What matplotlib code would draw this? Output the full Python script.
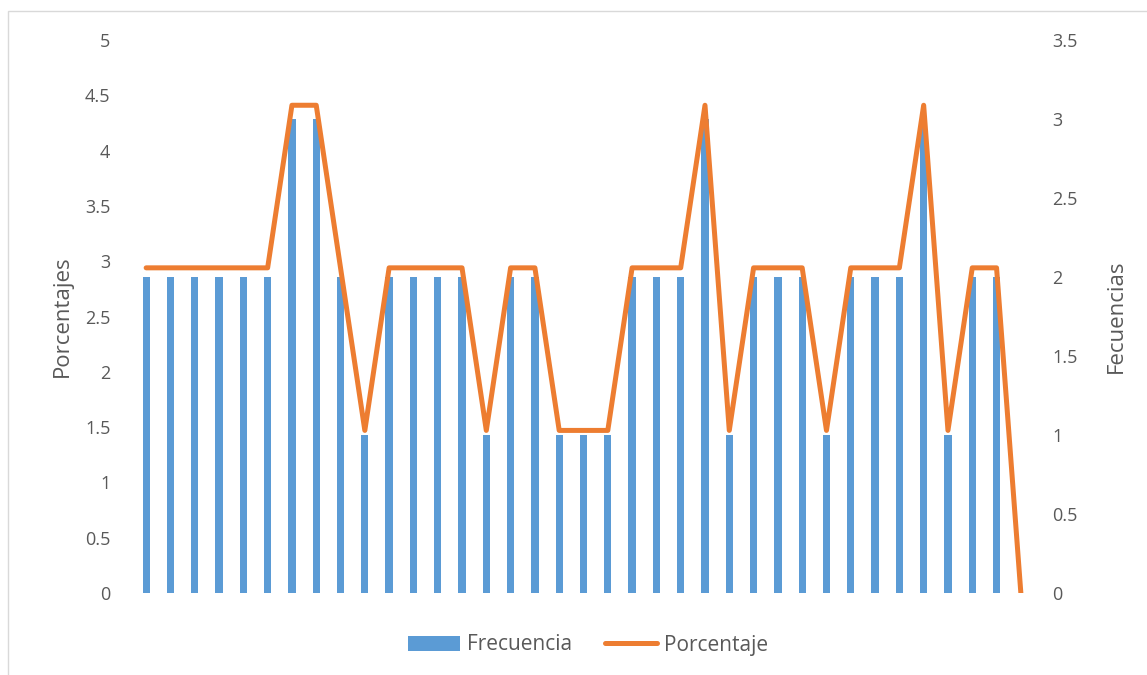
import matplotlib
matplotlib.use("Agg")
import matplotlib.pyplot as plt
from matplotlib.patches import Rectangle
from matplotlib.lines import Line2D
from matplotlib.patches import Patch

plt.rcParams['font.family'] = ['Open Sans', 'DejaVu Sans']

categories = list(range(1, 38))
frecuencia = [2, 2, 2, 2, 2, 2, 3, 3, 2, 1, 2, 2, 2, 2, 1, 2, 2, 1, 1, 1,
              2, 2, 2, 3, 1, 2, 2, 2, 1, 2, 2, 2, 3, 1, 2, 2, 0]
porcentaje = [2.94, 2.94, 2.94, 2.94, 2.94, 2.94, 4.41, 4.41, 2.94, 1.47,
              2.94, 2.94, 2.94, 2.94, 1.47, 2.94, 2.94, 1.47, 1.47, 1.47,
              2.94, 2.94, 2.94, 4.41, 1.47, 2.94, 2.94, 2.94, 1.47, 2.94,
              2.94, 2.94, 4.41, 1.47, 2.94, 2.94, 0.0]
left_ticks = [0, 0.5, 1, 1.5, 2, 2.5, 3, 3.5, 4, 4.5, 5]
right_ticks = [0, 0.5, 1, 1.5, 2, 2.5, 3, 3.5]

W, H = 1147, 675
fig = plt.figure(figsize=(W / 100, H / 100), dpi=100)
fig.patch.set_facecolor('white')
fig.patches.append(Rectangle((8 / W, -0.01), 1.2, 1 - 11 / H + 0.01,
                             transform=fig.transFigure, fill=False,
                             edgecolor='#d9d9d9', linewidth=1.0))

ax = fig.add_axes([134 / W, 1 - 593 / H, (1033 - 134) / W, (593 - 40) / H])
ax2 = ax.twinx()

gray = '#595959'
blue = '#5B9BD5'
orange = '#ED7D31'

ax2.bar(categories, frecuencia, width=0.3, color=blue, zorder=2)
ax.plot(categories, porcentaje, color=orange, linewidth=3.6,
        solid_joinstyle='round', solid_capstyle='round', zorder=3)

ax.set_zorder(ax2.get_zorder() + 1)
ax.patch.set_visible(False)

ax.set_xlim(0.5, len(categories) + 0.5)
ax.set_ylim(0, 5)
ax2.set_ylim(0, 3.5)
ax.set_yticks(left_ticks)
ax.set_yticklabels([f"{t:g}" for t in left_ticks])
ax2.set_yticks(right_ticks)
ax2.set_yticklabels([f"{t:g}" for t in right_ticks])
ax.set_xticks([])

for a in (ax, ax2):
    for s in a.spines.values():
        s.set_visible(False)
ax.tick_params(axis='y', length=0, labelsize=13, labelcolor=gray, pad=17)
ax2.tick_params(axis='y', length=0, labelsize=13, labelcolor=gray, pad=14)

ax.set_ylabel('Porcentajes', fontsize=16, color=gray, labelpad=9)
ax2.set_ylabel('Fecuencias', fontsize=16, color=gray, rotation=90, labelpad=20)

handles = [Patch(facecolor=blue, edgecolor='none'),
           Line2D([0], [0], color=orange, linewidth=3.6, solid_capstyle='round')]
leg = fig.legend(handles, ['Frecuencia', 'Porcentaje'], loc='center',
                 bbox_to_anchor=(588 / W, 1 - 645 / H), ncol=2, frameon=False,
                 fontsize=15, handlelength=2.5, handletextpad=0.3,
                 columnspacing=1.6)
for t in leg.get_texts():
    t.set_color(gray)

fig.savefig('out.png', dpi=100, facecolor='white')
